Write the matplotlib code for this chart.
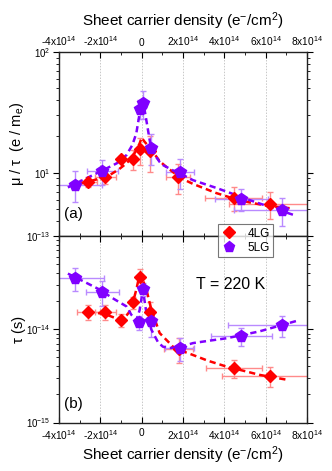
import matplotlib
matplotlib.use("Agg")
import matplotlib.pyplot as plt
from matplotlib.lines import Line2D
from matplotlib.ticker import FixedLocator, FixedFormatter, LogLocator, NullFormatter

plt.rcParams['font.family'] = ['Liberation Sans', 'DejaVu Sans']
plt.rcParams['mathtext.fontset'] = 'custom'
plt.rcParams['mathtext.rm'] = 'Liberation Sans'
plt.rcParams['mathtext.it'] = 'Liberation Sans:italic'

# ---- data (x in units of 1e14 e-/cm^2) ----
# 4LG mu/tau
x4_mu = [-2.58, -1.76, -0.98, -0.42, -0.10, 0.42, 1.74, 4.45, 6.21]
y4_mu = [8.43, 9.16, 13.06, 13.0, 15.6, 15.2, 9.27, 6.2, 5.55]
xe4_mu = [0.40, 0.50, 0.10, 0.10, 0.10, 0.10, 0.58, 1.37, 2.0]
ye4_mu = [0.8, 1.1, 0.6, 2.5, 4.0, 5.0, 2.6, 1.4, 1.4]
# 5LG mu/tau
x5_mu = [-3.21, -1.90, -0.10, 0.06, 0.44, 1.85, 4.82, 6.79]
y5_mu = [8.0, 10.3, 34.0, 37.9, 16.2, 10.2, 6.1, 4.94]
xe5_mu = [1.30, 0.75, 0.05, 0.05, 0.10, 0.68, 1.28, 2.3]
ye5_mu = [2.3, 2.4, 6.0, 10.0, 4.7, 2.8, 1.3, 1.3]
# 4LG tau (units 1e-14 s)
x4_tau = [-2.58, -1.76, -0.98, -0.42, -0.10, 0.42, 1.79, 4.45, 6.21]
y4_tau = [1.55, 1.53, 1.27, 1.94, 3.64, 1.55, 0.616, 0.383, 0.318]
xe4_tau = [0.56, 0.52, 0.10, 0.10, 0.10, 0.10, 0.70, 1.36, 2.3]
ye4_tau = [0.28, 0.28, 0.20, 0.30, 0.80, 0.40, 0.18, 0.085, 0.08]
# 5LG tau
x5_tau = [-3.21, -1.90, -0.13, 0.06, 0.44, 1.84, 4.82, 6.79]
y5_tau = [3.56, 2.51, 1.19, 2.70, 1.22, 0.628, 0.845, 1.11]
xe5_tau = [1.39, 0.78, 0.05, 0.05, 0.10, 0.70, 1.47, 2.6]
ye5_tau = [1.0, 0.75, 0.20, 0.40, 0.40, 0.17, 0.19, 0.28]

# dashed fit curves
f4_mu_x = [-2.92, -2.2, -1.55, -1.1, -0.74, -0.45, -0.26, -0.1, 0.0, 0.15, 0.39, 0.87, 1.19, 1.7, 2.16, 2.48, 3.61, 4.1, 4.42, 5.2, 6.03, 7.16]
f4_mu_y = [8.17, 8.8, 9.57, 10.7, 11.96, 13.5, 15.4, 17.5, 19.5, 18.0, 16.2, 12.5, 11.2, 9.6, 8.6, 8.1, 6.8, 6.4, 6.15, 5.7, 5.35, 5.1]
f5_mu_x = [-3.57, -2.8, -2.03, -1.2, -0.74, -0.45, -0.26, -0.1, 0.06, 0.23, 0.47, 0.87, 1.03, 1.5, 2.0, 2.48, 3.61, 4.1, 5.22, 6.3, 7.32]
f5_mu_y = [7.57, 8.8, 10.2, 12.0, 14.0, 17.0, 21.2, 30.9, 40.0, 27.0, 15.4, 12.3, 11.6, 10.5, 9.6, 8.7, 7.5, 7.0, 5.95, 5.15, 4.5]
f4_tau_x = [-2.6, -1.76, -1.47, -1.2, -0.98, -0.74, -0.58, -0.42, -0.26, -0.1, 0.05, 0.23, 0.47, 0.87, 1.35, 1.51, 2.0, 2.48, 3.2, 4.1, 4.9, 5.71, 7.08]
f4_tau_y = [1.55, 1.45, 1.37, 1.3, 1.27, 1.4, 1.55, 1.95, 2.66, 3.85, 3.4, 2.66, 1.62, 0.91, 0.71, 0.65, 0.58, 0.53, 0.46, 0.398, 0.36, 0.324, 0.286]
f5_tau_x = [-3.57, -2.8, -2.03, -1.4, -0.74, -0.5, -0.26, -0.1, 0.06, 0.23, 0.47, 0.8, 1.03, 1.35, 1.8, 2.48, 3.2, 4.1, 4.9, 5.71, 6.6, 7.56]
f5_tau_y = [3.95, 3.25, 2.66, 2.15, 1.76, 1.43, 1.25, 1.6, 2.66, 1.49, 0.99, 0.72, 0.65, 0.63, 0.64, 0.71, 0.75, 0.80, 0.87, 0.95, 1.08, 1.24]

xticks = [-4, -2, 0, 2, 4, 6, 8]
xticklabels = [r'-4x10$^{\mathregular{14}}$', r'-2x10$^{\mathregular{14}}$', '0',
               r'2x10$^{\mathregular{14}}$', r'4x10$^{\mathregular{14}}$',
               r'6x10$^{\mathregular{14}}$', r'8x10$^{\mathregular{14}}$']
legend_labels = ['4LG', '5LG']
temp_label = 'T = 220 K'

RED = '#FF0000'
PUR = '#8000FF'
RED_E = '#FF8A8A'
PUR_E = '#B98AFF'

fig = plt.figure(figsize=(3.32, 4.71), dpi=100)
L, R = 59 / 332, 307 / 332
ax1 = fig.add_axes([L, 1 - 236 / 471, R - L, (236 - 52) / 471])
ax2 = fig.add_axes([L, 1 - 422.5 / 471, R - L, (422.5 - 236) / 471])

def draw(ax, xs, ys, xe, ye, color, ecolor, marker, ms, scale=1.0):
    yv = [v * scale for v in ys]
    yev = [v * scale for v in ye]
    ax.errorbar(xs, yv, xerr=xe, yerr=yev, fmt='none', ecolor=ecolor, elinewidth=1.0,
                capsize=2, capthick=1.0, zorder=2)
    ax.plot(xs, yv, linestyle='none', marker=marker, ms=ms, color=color, mec=color, zorder=4)

def fit(ax, xs, ys, color, scale=1.0):
    ax.plot(xs, [v * scale for v in ys], linestyle=(0, (2.5, 1.6)), color=color, lw=1.8, zorder=3)

# top panel
fit(ax1, f4_mu_x, f4_mu_y, RED)
fit(ax1, f5_mu_x, f5_mu_y, PUR)
draw(ax1, x4_mu, y4_mu, xe4_mu, ye4_mu, RED, RED_E, 'D', 6.5)
draw(ax1, x5_mu, y5_mu, xe5_mu, ye5_mu, PUR, PUR_E, 'p', 8.5)
ax1.set_yscale('log')
ax1.set_ylim(3, 100)

# bottom panel
fit(ax2, f4_tau_x, f4_tau_y, RED, 1e-14)
fit(ax2, f5_tau_x, f5_tau_y, PUR, 1e-14)
draw(ax2, x4_tau, y4_tau, xe4_tau, ye4_tau, RED, RED_E, 'D', 6.5, 1e-14)
draw(ax2, x5_tau, y5_tau, xe5_tau, ye5_tau, PUR, PUR_E, 'p', 8.5, 1e-14)
ax2.set_yscale('log')
ax2.set_ylim(1e-15, 1e-13)

for ax in (ax1, ax2):
    ax.set_xlim(-4, 8)
    ax.xaxis.set_major_locator(FixedLocator(xticks))
    ax.xaxis.set_minor_locator(FixedLocator([-3, -1, 1, 3, 5, 7]))
    ax.grid(True, axis='x', which='major', color='#C8C8C8', linestyle=(0, (1.5, 1.5)), lw=0.7)
    ax.set_axisbelow(True)
    for s in ax.spines.values():
        s.set_linewidth(1.0)
        s.set_color('#222222')
    ax.tick_params(axis='y', which='both', left=True, right=True, direction='out', labelsize=7, pad=2)
    ax.tick_params(axis='y', which='major', length=4)
    ax.tick_params(axis='y', which='minor', length=2.5)
    ax.yaxis.set_minor_locator(LogLocator(base=10, subs=range(2, 10)))
    ax.yaxis.set_minor_formatter(NullFormatter())
    ax.tick_params(axis='x', which='both', direction='in', top=True, bottom=True, labelsize=7.3)
    ax.tick_params(axis='x', which='major', length=4)
    ax.tick_params(axis='x', which='minor', length=2)

ax1.yaxis.set_major_locator(FixedLocator([10, 100]))
ax1.yaxis.set_major_formatter(FixedFormatter([r'10$^{\mathregular{1}}$', r'10$^{\mathregular{2}}$']))
ax2.yaxis.set_major_locator(FixedLocator([1e-15, 1e-14, 1e-13]))
ax2.yaxis.set_major_formatter(FixedFormatter([r'10$^{\mathregular{-15}}$', r'10$^{\mathregular{-14}}$', r'10$^{\mathregular{-13}}$']))

ax1.xaxis.set_major_formatter(FixedFormatter(xticklabels))
ax1.tick_params(axis='x', labeltop=True, labelbottom=False, pad=3)
ax1.xaxis.set_label_position('top')
ax1.set_xlabel(r'Sheet carrier density (e$^{\mathregular{-}}$/cm$^{\mathregular{2}}$)', fontsize=11, labelpad=6)
ax2.xaxis.set_major_formatter(FixedFormatter(xticklabels))
ax2.tick_params(axis='x', labeltop=False, labelbottom=True, pad=4)
ax2.set_xlabel(r'Sheet carrier density (e$^{\mathregular{-}}$/cm$^{\mathregular{2}}$)', fontsize=11, labelpad=2)

ax1.set_ylabel(r'μ / τ  (e / m$_{\mathregular{e}}$)', fontsize=10.5)
ax2.set_ylabel('τ (s)', fontsize=10.5)
ax1.yaxis.set_label_coords(-0.135, 0.5)
ax2.yaxis.set_label_coords(-0.135, 0.5)

ax1.text(0.02, 0.12, '(a)', transform=ax1.transAxes, fontsize=11, va='center', ha='left')
ax2.text(0.02, 0.10, '(b)', transform=ax2.transAxes, fontsize=11, va='center', ha='left')
ax2.text(0.83, 0.74, temp_label, transform=ax2.transAxes, fontsize=11.5, va='center', ha='right')

handles = [Line2D([], [], ls='none', marker='D', color=RED, ms=6),
           Line2D([], [], ls='none', marker='p', color=PUR, ms=8)]
leg = fig.legend(handles, legend_labels, loc='upper left', bbox_to_anchor=(218 / 332, 1 - 224 / 471),
                 fontsize=8.5, frameon=True, fancybox=False, borderpad=0.3, labelspacing=0.2,
                 handlelength=1.2, handletextpad=1.0, borderaxespad=0)
leg.get_frame().set_edgecolor('#555555')
leg.get_frame().set_linewidth(0.8)
leg.set_zorder(10)

fig.savefig('out.png', dpi=100)
